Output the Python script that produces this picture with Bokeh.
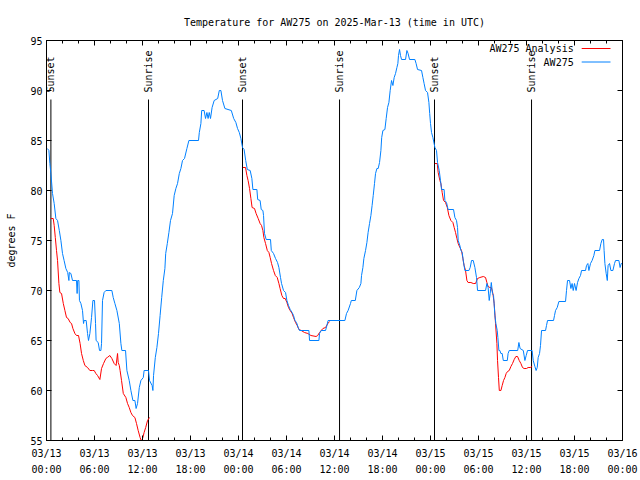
import math
from bokeh.plotting import figure
from bokeh.models import Range1d, LinearAxis, FixedTicker, Label
from bokeh.core.properties import value
from bokeh.embed import file_html
from bokeh.resources import INLINE

# ---------------- data (hours since 2025-03-13 00:00 UTC) ----------------
blue_hours = [0.1, 0.3, 0.42, 0.55, 0.75, 0.96, 1.17, 1.38, 1.6, 1.8, 2.0, 2.2, 2.42, 2.65, 2.8, 2.85, 3.05, 3.25, 3.75, 3.83, 3.9, 4.05, 4.12, 4.3, 4.5, 4.63, 4.7, 4.96, 5.13, 5.25, 5.42, 5.63, 5.8, 6.0, 6.13, 6.2, 6.46, 6.63, 6.8, 6.88, 7.0, 7.2, 7.42, 8.17, 8.34, 8.55, 8.8, 9.1, 9.3, 9.42, 9.88, 10.05, 10.34, 10.55, 10.8, 11.05, 11.2, 11.38, 11.6, 11.8, 12.1, 12.2, 12.75, 12.88, 13.2, 13.3, 13.38, 13.6, 13.8, 14.0, 14.2, 14.4, 14.6, 14.8, 14.9, 15.1, 15.3, 15.5, 15.75, 15.96, 16.17, 16.38, 16.6, 16.8, 17.0, 17.25, 17.55, 17.8, 19.0, 19.1, 19.3, 19.4, 19.7, 19.88, 20.05, 20.2, 20.34, 20.5, 20.7, 20.96, 21.4, 21.6, 21.8, 22.0, 22.3, 23.1, 23.4, 23.67, 23.88, 24.1, 24.3, 24.5, 24.7, 24.9, 25.1, 25.46, 25.67, 25.8, 26.3, 26.4, 26.7, 26.84, 27.05, 27.13, 27.25, 27.46, 28.0, 28.1, 28.38, 28.63, 28.88, 29.05, 29.25, 29.38, 29.63, 29.88, 30.05, 30.25, 30.46, 30.7, 30.88, 31.05, 31.25, 31.46, 31.63, 32.8, 32.88, 34.05, 34.13, 34.34, 34.88, 35.05, 35.2, 37.3, 37.5, 37.7, 38.0, 38.1, 38.6, 38.8, 39.1, 39.3, 39.38, 39.55, 39.67, 39.88, 40.05, 40.2, 40.38, 40.55, 40.7, 40.84, 41.0, 41.13, 41.3, 41.46, 41.63, 41.8, 41.9, 42.05, 42.3, 42.46, 42.63, 42.8, 42.96, 43.13, 43.3, 43.46, 43.63, 43.8, 43.92, 44.0, 44.13, 44.25, 44.38, 44.88, 45.05, 45.2, 45.38, 46.05, 46.2, 46.38, 46.88, 47.05, 47.2, 47.38, 47.63, 47.8, 47.9, 48.0, 48.13, 48.3, 48.55, 48.75, 48.88, 49.09, 49.25, 49.38, 49.7, 49.8, 50.0, 50.2, 50.88, 51.05, 51.25, 51.38, 51.46, 51.67, 51.8, 51.96, 52.13, 52.3, 52.8, 52.96, 53.13, 53.34, 53.55, 53.75, 53.88, 54.88, 55.05, 55.2, 55.34, 55.46, 55.6, 55.75, 55.88, 56.05, 56.17, 56.34, 56.42, 56.55, 56.67, 56.8, 56.96, 57.1, 57.6, 57.7, 57.84, 58.9, 59.05, 59.2, 59.6, 59.8, 59.96, 60.13, 60.7, 60.84, 61.05, 61.2, 61.34, 61.46, 61.63, 61.75, 61.88, 62.38, 62.5, 62.63, 63.38, 63.5, 63.63, 63.84, 64.05, 64.88, 65.0, 65.13, 65.38, 65.55, 65.7, 65.84, 66.0, 66.2, 66.38, 66.55, 66.75, 66.88, 67.38, 67.5, 67.67, 67.8, 68.0, 68.2, 68.42, 68.55, 69.13, 69.3, 69.46, 69.63, 69.7, 69.8, 69.96, 70.1, 70.2, 70.38, 70.55, 70.8, 71.0, 71.13, 71.55, 71.7, 71.84, 72.0]
blue_temp = [84.2, 84.0, 82.7, 81.7, 79.7, 78.7, 77.2, 77.0, 76.0, 75.0, 73.7, 73.0, 72.2, 71.8, 71.0, 71.8, 71.7, 71.0, 71.0, 69.7, 71.0, 71.0, 69.0, 68.7, 68.0, 66.7, 67.0, 67.0, 65.7, 65.0, 65.7, 67.3, 69.0, 69.0, 66.7, 65.0, 64.8, 64.0, 64.0, 64.7, 69.0, 69.8, 70.0, 70.0, 69.3, 68.7, 68.0, 66.7, 64.7, 64.0, 64.0, 62.0, 61.0, 60.0, 59.0, 59.0, 58.2, 58.7, 60.3, 61.0, 61.3, 62.0, 62.0, 61.0, 60.5, 60.0, 61.5, 63.3, 64.3, 65.7, 67.5, 69.3, 71.0, 72.2, 73.7, 74.7, 75.8, 77.0, 77.7, 79.5, 80.2, 80.7, 81.7, 82.2, 83.0, 83.2, 84.2, 85.0, 85.0, 85.8, 86.7, 88.0, 88.0, 87.2, 87.8, 87.2, 87.8, 87.2, 88.3, 89.0, 89.2, 90.0, 90.0, 89.0, 88.2, 88.0, 87.2, 86.8, 86.2, 85.8, 85.2, 84.3, 84.1, 83.0, 82.1, 82.0, 81.2, 80.1, 80.1, 79.1, 79.0, 78.1, 78.0, 77.5, 75.7, 75.1, 75.1, 74.0, 73.7, 73.2, 72.8, 72.3, 71.3, 70.7, 70.0, 69.8, 69.0, 68.5, 68.1, 67.8, 67.5, 67.0, 66.8, 66.3, 66.0, 66.0, 65.0, 65.0, 65.7, 66.0, 66.0, 66.5, 67.0, 67.0, 67.7, 68.0, 68.7, 69.0, 69.0, 70.0, 70.3, 70.7, 71.5, 72.3, 73.2, 74.0, 74.8, 75.8, 76.7, 77.5, 78.5, 79.5, 80.7, 81.7, 82.2, 82.2, 82.8, 84.0, 85.3, 86.0, 86.1, 87.2, 88.3, 88.8, 90.0, 91.0, 90.5, 91.3, 91.7, 92.3, 92.7, 93.5, 94.1, 93.5, 93.1, 93.1, 94.0, 93.7, 93.1, 93.1, 92.7, 92.1, 92.0, 91.3, 90.7, 90.0, 89.8, 88.8, 87.7, 86.7, 85.8, 85.3, 84.3, 84.0, 82.8, 82.0, 81.0, 80.1, 80.1, 79.0, 78.8, 78.1, 78.1, 77.3, 77.0, 76.3, 75.0, 74.5, 74.0, 73.8, 72.8, 72.0, 72.0, 72.3, 73.0, 73.0, 72.3, 71.3, 70.0, 70.0, 70.7, 70.3, 69.0, 69.7, 70.8, 69.7, 69.5, 67.5, 66.7, 66.0, 65.3, 64.0, 64.0, 63.7, 63.7, 63.0, 63.0, 63.7, 64.0, 64.0, 64.8, 64.2, 64.0, 63.0, 63.5, 64.0, 64.0, 63.0, 62.4, 62.0, 62.3, 63.3, 63.7, 64.5, 66.0, 66.0, 66.5, 67.0, 67.0, 67.5, 68.0, 68.3, 68.9, 68.9, 70.0, 71.0, 71.0, 70.2, 70.7, 70.0, 70.7, 70.0, 70.8, 71.2, 71.5, 72.0, 72.0, 72.5, 72.7, 72.0, 72.7, 73.0, 73.5, 74.0, 74.0, 74.7, 75.1, 75.1, 74.0, 72.7, 71.7, 71.0, 72.5, 72.7, 72.0, 72.0, 72.7, 73.0, 73.0, 72.3, 72.7, 72.7]

red1_hours = [0.55, 0.84, 0.96, 1.1, 1.25, 1.38, 1.55, 1.67, 1.88, 2.1, 2.3, 2.5, 2.7, 2.96, 3.13, 3.3, 3.55, 3.75, 4.0, 4.2, 4.38, 4.6, 4.8, 5.13, 5.42, 5.75, 5.96, 6.17, 6.38, 6.67, 6.88, 7.13, 7.42, 7.6, 7.92, 8.17, 8.46, 8.7, 8.88, 8.96, 9.1, 9.2, 9.38, 9.6, 9.92, 10.13, 10.34, 10.55, 10.75, 11.05, 11.25, 11.46, 11.7, 11.88, 12.05, 12.2, 12.4, 12.63, 12.88]
red1_temp = [77.2, 77.2, 76.5, 75.3, 74.0, 73.0, 70.7, 69.8, 69.7, 68.7, 68.0, 67.3, 67.2, 66.8, 66.7, 66.2, 65.7, 65.5, 65.5, 64.7, 63.7, 63.0, 62.5, 62.3, 62.0, 62.0, 62.0, 61.7, 61.5, 61.1, 62.2, 62.7, 63.2, 63.3, 63.5, 63.2, 62.7, 62.5, 63.7, 62.8, 62.5, 62.0, 61.0, 59.7, 59.3, 58.7, 58.3, 57.8, 57.5, 57.3, 56.7, 56.0, 55.3, 54.9, 55.3, 55.8, 56.3, 57.0, 57.3]
red2_hours = [24.55, 24.88, 25.05, 25.2, 25.38, 25.55, 25.7, 26.0, 26.2, 26.46, 26.7, 26.88, 27.05, 27.17, 27.38, 27.6, 27.8, 27.96, 28.13, 28.38, 28.6, 28.84, 29.05, 29.2, 29.42, 29.63, 29.84, 30.05, 30.25, 30.46, 30.7, 30.88, 31.13, 31.34, 31.55, 31.84, 32.25, 32.67, 33.05, 33.7, 33.9, 34.13, 34.55, 34.88, 35.17, 35.38]
red2_temp = [82.3, 82.3, 81.5, 81.0, 80.2, 79.2, 78.3, 78.2, 77.7, 77.2, 76.7, 76.5, 76.0, 75.3, 74.7, 74.0, 73.8, 73.3, 72.7, 72.0, 71.5, 71.3, 70.7, 70.2, 69.5, 69.2, 69.2, 68.8, 68.3, 68.0, 67.7, 67.3, 66.8, 66.5, 66.1, 66.0, 65.8, 65.7, 65.5, 65.4, 65.5, 65.8, 66.2, 66.3, 66.7, 66.9]
red3_hours = [48.55, 48.84, 48.96, 49.17, 49.3, 49.46, 49.63, 49.88, 50.1, 50.3, 50.55, 50.8, 50.96, 51.13, 51.3, 51.46, 51.67, 51.88, 52.05, 52.2, 52.38, 52.55, 52.7, 53.05, 53.34, 53.63, 53.88, 54.17, 54.6, 54.88, 55.05, 55.2, 55.42, 55.6, 55.8, 55.96, 56.13, 56.3, 56.38, 56.5, 56.6, 56.8, 56.96, 57.13, 57.3, 57.46, 57.63, 57.84, 58.05, 58.25, 58.46, 58.67, 58.88, 59.09, 59.3, 59.5, 59.7, 60.0, 60.2, 60.46, 60.7]
red3_temp = [82.7, 82.7, 81.8, 81.0, 80.7, 79.8, 79.0, 78.8, 78.3, 77.5, 77.0, 76.8, 76.3, 75.8, 75.2, 74.7, 74.3, 74.0, 73.2, 72.5, 72.0, 71.0, 70.8, 70.8, 70.7, 70.7, 71.2, 71.3, 71.4, 71.3, 70.8, 70.4, 70.3, 70.3, 69.7, 68.7, 66.7, 64.7, 63.0, 61.3, 60.0, 60.0, 60.5, 61.0, 61.3, 61.7, 61.9, 62.0, 62.4, 62.7, 63.1, 63.4, 63.4, 63.0, 62.7, 62.3, 62.2, 62.2, 62.3, 62.3, 62.4]

event_hours = [0.55, 12.75, 24.5, 36.63, 48.5, 60.63]
event_names = ["Sunset", "Sunrise", "Sunset", "Sunrise", "Sunset", "Sunrise"]

x_ticks = [0, 6, 12, 18, 24, 30, 36, 42, 48, 54, 60, 66, 72]
date_labels = ["03/13", "03/13", "03/13", "03/13", "03/14", "03/14", "03/14", "03/14",
               "03/15", "03/15", "03/15", "03/15", "03/16"]
time_labels = ["00:00", "06:00", "12:00", "18:00", "00:00", "06:00", "12:00", "18:00",
               "00:00", "06:00", "12:00", "18:00", "00:00"]
y_ticks = [55, 60, 65, 70, 75, 80, 85, 90, 95]

series_names = ["AW275 Analysis", "AW275"]
RED = "#ff0000"
BLUE = "#0080ff"
FONT = "DejaVu Sans Mono"
FS = "10px"

# ---------------- figure ----------------
p = figure(width=640, height=480, output_backend="svg", toolbar_location=None,
           x_range=Range1d(0, 72), y_range=Range1d(55, 95),
           x_axis_type=None, y_axis_type=None,
           min_border_left=46, min_border_right=18, min_border_top=40, min_border_bottom=40)
p.outline_line_color = "black"
p.outline_line_width = 1
p.background_fill_color = "white"
p.border_fill_color = "white"

p.title.text = "Temperature for AW275 on 2025-Mar-13 (time in UTC)"
p.title.align = "center"
p.title.text_font = FONT
p.title.text_font_size = FS
p.title.text_font_style = "normal"
p.title.text_color = "black"
p.title.standoff = 26

minor_x = [h for h in range(0, 73, 2) if h % 6 != 0]

def style_axis(ax, labels=True):
    ax.axis_line_color = "black"
    ax.major_tick_in = 5
    ax.major_tick_out = 0
    ax.minor_tick_in = 3
    ax.minor_tick_out = 0
    ax.major_tick_line_color = "black"
    ax.minor_tick_line_color = "black"
    ax.major_label_text_font = FONT
    ax.major_label_text_font_size = FS if labels else "0px"
    ax.major_label_text_color = "black" if labels else None
    ax.axis_label_text_font = FONT
    ax.axis_label_text_font_size = FS
    ax.axis_label_text_font_style = "normal"
    ax.axis_label_text_color = "black"

xb = LinearAxis(ticker=FixedTicker(ticks=x_ticks, minor_ticks=minor_x),
                major_label_overrides={t: d for t, d in zip(x_ticks, date_labels)})
style_axis(xb)
xb.major_label_standoff = 7
p.add_layout(xb, "below")

xb2 = LinearAxis(ticker=FixedTicker(ticks=x_ticks, minor_ticks=[]),
                 major_label_overrides={t: d for t, d in zip(x_ticks, time_labels)})
style_axis(xb2)
xb2.axis_line_color = None
xb2.major_tick_line_color = None
xb2.minor_tick_line_color = None
xb2.major_label_standoff = 2
p.add_layout(xb2, "below")

xt = LinearAxis(ticker=FixedTicker(ticks=x_ticks, minor_ticks=minor_x))
style_axis(xt, labels=False)
p.add_layout(xt, "above")

yl = LinearAxis(ticker=FixedTicker(ticks=y_ticks, minor_ticks=[]), axis_label="degrees F")
style_axis(yl)
yl.major_label_standoff = 4
yl.axis_label_standoff = 10
p.add_layout(yl, "left")

yr = LinearAxis(ticker=FixedTicker(ticks=y_ticks, minor_ticks=[]))
style_axis(yr, labels=False)
p.add_layout(yr, "right")

# ---------------- sunrise / sunset markers ----------------
y_lo = p.y_range.start
y_line_top = 89.1
p.segment(x0=event_hours, y0=[y_lo] * len(event_hours), x1=event_hours,
          y1=[y_line_top] * len(event_hours), line_color="black", line_width=1)
p.text(x=event_hours, y=[y_line_top + 0.7] * len(event_hours), text=event_names,
       angle=math.pi / 2, text_align="left", text_baseline="middle",
       text_font=value(FONT), text_font_size=FS, text_color="black")

# ---------------- series ----------------
nan = float("nan")
red_x = red1_hours + [nan] + red2_hours + [nan] + red3_hours
red_y = red1_temp + [nan] + red2_temp + [nan] + red3_temp
p.line(red_x, red_y, line_color=RED, line_width=1)
p.line(blue_hours, blue_temp, line_color=BLUE, line_width=1)

# ---------------- legend (gnuplot style: text then sample) ----------------
x_end = p.x_range.end
y_top = p.y_range.end
leg_text_x = x_end - 6.1
leg_line = [x_end - 5.1, x_end - 1.5]
for i, (name, col) in enumerate(zip(series_names, [RED, BLUE])):
    yy = y_top - 0.8 - 1.35 * i
    p.add_layout(Label(x=leg_text_x, y=yy, text=name, text_align="right",
                       text_baseline="middle", text_font=FONT, text_font_size=FS,
                       text_color="black"))
    p.line(leg_line, [yy, yy], line_color=col, line_width=1)

open("out.html", "w").write(file_html(p, INLINE))
